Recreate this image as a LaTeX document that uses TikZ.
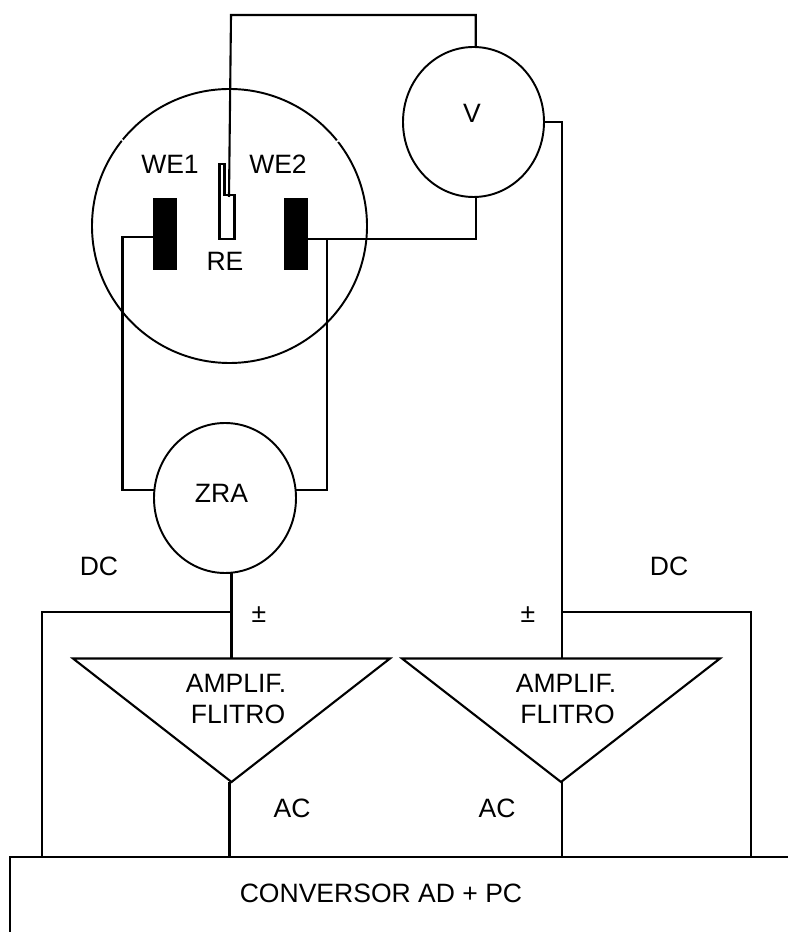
\documentclass[tikz,border=0pt]{standalone}
\usepackage{fontspec}
\setmainfont{Liberation Sans}
\usetikzlibrary{shapes.geometric}
\tikzset{
   wire/.style={line width=0.6pt, black},
   meter/.style={draw, ellipse, line width=0.55pt, inner sep=0pt, outer sep=0pt},
   plate/.style={draw=none, fill=black, rectangle, inner sep=0pt, outer sep=0pt, minimum width=0.24cm, minimum height=0.72cm},
   lbl/.style={inner sep=0pt, font=\fontsize{7.55}{9}\selectfont}
}
\begin{document}
\begin{tikzpicture}
   \useasboundingbox (0,0) rectangle (7.88,9.32);
   % Cell and electrodes
   \node[meter, minimum width=2.75cm, minimum height=2.74cm] (cell) at (2.295,7.06) {};
   \draw[white, line width=1pt] (1.23,7.92) -- (1.22,7.91);
   \draw[white, line width=1pt] (3.37,7.915) -- (3.38,7.90);
   \node[plate] (we1) at (1.65,6.98) {};
   \node[plate] (we2) at (2.96,6.98) {};
   \draw[wire] (2.195,7.68) -- (2.245,7.68) -- (2.245,7.37) -- (2.345,7.37) -- (2.345,6.93) -- (2.195,6.93) -- cycle;
   % Meters
   \node[meter, minimum width=1.41cm, minimum height=1.50cm] (volt) at (4.735,8.10) {};
   \node[meter, minimum width=1.42cm, minimum height=1.50cm] (zra) at (2.25,4.34) {};
   % Amplifiers
   \coordinate (ampLa) at (0.73,2.735);
   \coordinate (ampLb) at (3.90,2.735);
   \coordinate (ampLc) at (2.315,1.50);
   \coordinate (ampRa) at (4.02,2.735);
   \coordinate (ampRb) at (7.20,2.735);
   \coordinate (ampRc) at (5.61,1.50);
   \draw[wire] (ampLa) -- (ampLb) -- (ampLc) -- cycle;
   \draw[wire] (ampRa) -- (ampRb) -- (ampRc) -- cycle;
   % Converter
   \coordinate (convA) at (0.10,0);
   \coordinate (convB) at (0.10,0.75);
   \coordinate (convC) at (7.88,0.75);
   \draw[wire] (convA) -- (convB) -- (convC);
   % Reference electrode wire
   \coordinate (reEnd) at (2.29,7.35);
   \coordinate (topL) at (2.31,9.17);
   \coordinate (topR) at (4.757,9.17);
   \draw[wire] (reEnd) -- (topL) -- (topR) -- (topR |- volt.north);
   % WE wires
   \coordinate (we1a) at (1.225,6.95);
   \coordinate (we1b) at (1.225,4.42);
   \coordinate (we2a) at (3.27,6.93);
   \coordinate (we2b) at (3.27,4.42);
   \coordinate (we2c) at (4.757,6.93);
   \draw[wire] (we1.west |- we1a) -- (we1a) -- (we1b) -- (we1b -| zra.west);
   \draw[wire] (we2.east |- we2a) -- (we2c) -- (we2c |- volt.south);
   \draw[wire] (we2a) -- (we2b) -- (we2b -| zra.east);
   % Outputs of the meters
   \coordinate (zraOut) at (2.315,2.735);
   \coordinate (voltA) at (5.62,8.10);
   \coordinate (voltB) at (5.62,2.735);
   \draw[wire] (zraOut |- zra.south) -- (zraOut);
   \draw[wire] (volt.east |- voltA) -- (voltA) -- (voltB);
   % DC lines
   \coordinate (dcLa) at (2.315,3.20);
   \coordinate (dcLb) at (0.42,3.20);
   \coordinate (dcRa) at (5.62,3.20);
   \coordinate (dcRb) at (7.51,3.20);
   \draw[wire] (dcLa) -- (dcLb) -- (dcLb |- convB);
   \draw[wire] (dcRa) -- (dcRb) -- (dcRb |- convB);
   % AC lines
   \draw[wire] (2.295,1.50) -- (2.295,0.75);
   \draw[wire] (voltB |- ampRc) -- (voltB |- convB);
   % Labels
   \node[lbl] (lWEa) at (1.70,7.675) {WE1};
   \node[lbl] (lWEb) at (2.78,7.675) {WE2};
   \node[lbl] (lRE) at (2.25,6.71) {RE};
   \node[lbl] (lV) at (4.72,8.19) {V};
   \node[lbl] (lZRA) at (2.215,4.385) {ZRA};
   \node[lbl] (lDCa) at (0.99,3.66) {DC};
   \node[lbl] (lDCb) at (6.69,3.66) {DC};
   \node[lbl] (lPMa) at (2.59,3.17) {±};
   \node[lbl] (lPMb) at (5.28,3.17) {±};
   \node[lbl] (lAmpa) at (2.36,2.49) {AMPLIF.};
   \node[lbl] (lFila) at (2.38,2.18) {FLITRO};
   \node[lbl] (lAmpb) at (5.66,2.49) {AMPLIF.};
   \node[lbl] (lFilb) at (5.675,2.18) {FLITRO};
   \node[lbl] (lACa) at (2.92,1.24) {AC};
   \node[lbl] (lACb) at (4.97,1.24) {AC};
   \node[lbl] (lConv) at (3.81,0.39) {CONVERSOR AD + PC};
\end{tikzpicture}
\end{document}
